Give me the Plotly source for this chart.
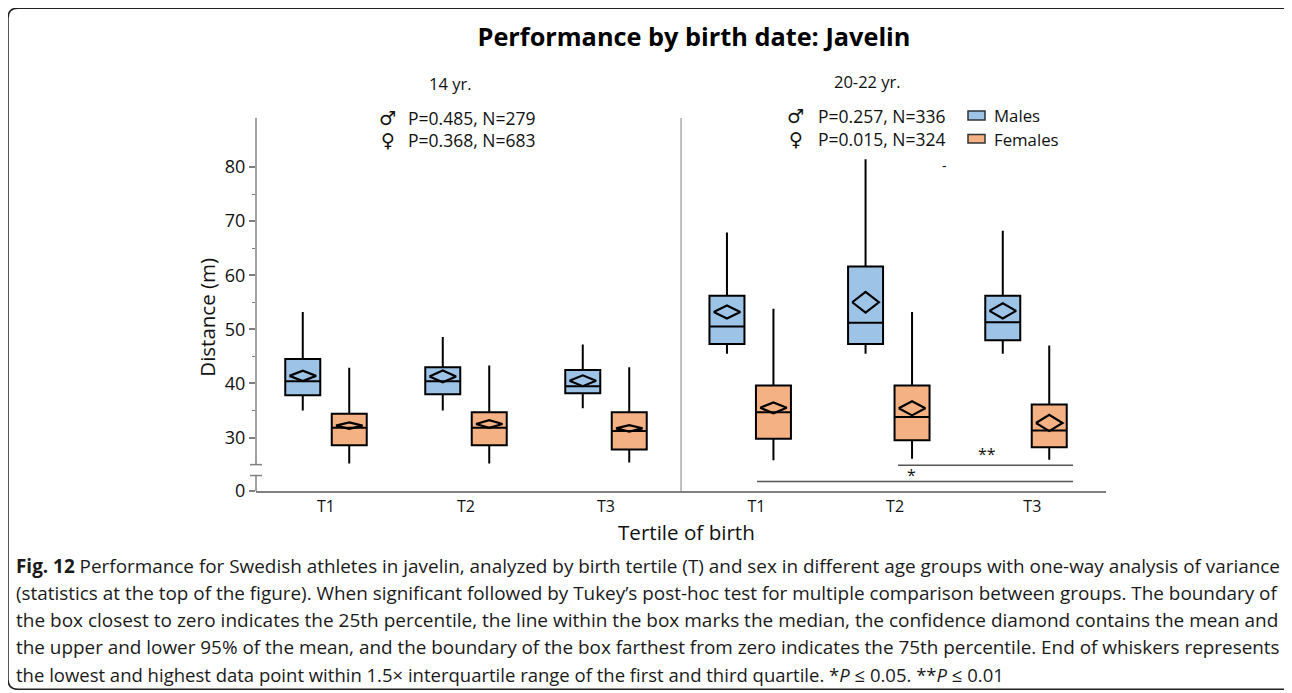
import plotly.graph_objects as go

# ---------------- data ----------------
tertiles = ["T1", "T2", "T3"]
age_groups = ["14 yr.", "20-22 yr."]
sexes = ["Males", "Females"]

# 14 yr.
m14_low = [35.0, 35.0, 35.4]
m14_q1 = [37.8, 38.0, 38.2]
m14_med = [40.4, 40.4, 39.5]
m14_q3 = [44.5, 43.0, 42.5]
m14_high = [53.2, 48.6, 47.2]
m14_mean = [41.4, 41.3, 40.5]
m14_ci = [0.95, 1.1, 1.0]

f14_low = [25.2, 25.2, 25.4]
f14_q1 = [28.6, 28.6, 27.8]
f14_med = [31.8, 31.8, 31.2]
f14_q3 = [34.4, 34.7, 34.7]
f14_high = [42.9, 43.3, 43.0]
f14_mean = [32.2, 32.5, 31.7]
f14_ci = [0.6, 0.7, 0.6]

# 20-22 yr.
m20_low = [45.5, 45.5, 45.5]
m20_q1 = [47.3, 47.3, 48.0]
m20_med = [50.5, 51.2, 51.3]
m20_q3 = [56.2, 61.6, 56.2]
m20_high = [67.9, 81.4, 68.2]
m20_mean = [53.2, 55.0, 53.4]
m20_ci = [1.2, 1.9, 1.4]

f20_low = [25.8, 26.1, 25.9]
f20_q1 = [29.8, 29.5, 28.2]
f20_med = [34.7, 33.8, 31.3]
f20_q3 = [39.6, 39.6, 36.1]
f20_high = [53.8, 53.2, 47.0]
f20_mean = [35.5, 35.4, 32.7]
f20_ci = [1.0, 1.3, 1.5]

stats_14 = ["P=0.485, N=279", "P=0.368, N=683"]
stats_20 = ["P=0.257, N=336", "P=0.015, N=324"]
y_ticks = [30, 40, 50, 60, 70, 80]

caption_lines = [
    "<b>Fig. 12</b> Performance for Swedish athletes in javelin, analyzed by birth tertile (T) and sex in different age groups with one-way analysis of variance",
    "(statistics at the top of the figure). When significant followed by Tukey\u2019s post-hoc test for multiple comparison between groups. The boundary of",
    "the box closest to zero indicates the 25th percentile, the line within the box marks the median, the confidence diamond contains the mean and",
    "the upper and lower 95% of the mean, and the boundary of the box farthest from zero indicates the 75th percentile. End of whiskers represents",
    "the lowest and highest data point within 1.5\u00d7 interquartile range of the first and third quartile. *<i>P</i> \u2264 0.05. **<i>P</i> \u2264 0.01",
]

# ---------------- layout geometry ----------------
OFF_PAGE = 8                       # default page margin of the html body
W, H = 1292 - OFF_PAGE, 693 - OFF_PAGE
L, R, T, B = 256, 1106, 118, 491.5  # plot area in screen pixels
PW, PH = R - L, B - T
UNIT = 140.0           # px per category unit
PXY = 5.42             # px per metre
ZERO = 30 - (B - 438) / PXY     # broken axis: where the "0" sits
YTOP = ZERO + PH / PXY
XMIN = 0.5
XMAX = XMIN + PW / UNIT

def pxx(px):
    return (px - L) / PW

def pxy(py):
    return (B - py) / PH

pos_left = [1.0, 2.0, 3.0]
pos_right = [4.03, 5.02, 6.0]
OFF = 0.166
BW = 0.25
DW = 0.095

MALE_FILL = "#9DC3E6"
FEMALE_FILL = "#F4B183"
FONT = "Open Sans, Noto Sans, sans-serif"

fig = go.Figure()

def add_group(centers, off, low, q1, med, q3, high, mean, ci, fill, name):
    xs = [c + off for c in centers]
    fig.add_trace(go.Box(
        x=xs, q1=q1, median=med, q3=q3, lowerfence=low, upperfence=high,
        width=BW, fillcolor=fill, line=dict(color="black", width=2),
        whiskerwidth=0, boxpoints=False, name=name, showlegend=False,
        hoverinfo="skip"))
    dx, dy = [], []
    for x, m, c in zip(xs, mean, ci):
        dx += [x - DW, x, x + DW, x, x - DW, None]
        dy += [m, m + c, m, m - c, m, None]
    fig.add_trace(go.Scatter(x=dx, y=dy, mode="lines",
                             line=dict(color="black", width=2.2),
                             showlegend=False, hoverinfo="skip"))

add_group(pos_left, -OFF, m14_low, m14_q1, m14_med, m14_q3, m14_high, m14_mean, m14_ci, MALE_FILL, sexes[0])
add_group(pos_left, OFF, f14_low, f14_q1, f14_med, f14_q3, f14_high, f14_mean, f14_ci, FEMALE_FILL, sexes[1])
add_group(pos_right, -OFF, m20_low, m20_q1, m20_med, m20_q3, m20_high, m20_mean, m20_ci, MALE_FILL, sexes[0])
add_group(pos_right, OFF, f20_low, f20_q1, f20_med, f20_q3, f20_high, f20_mean, f20_ci, FEMALE_FILL, sexes[1])

AXC = "#808080"
shapes = []
# y axis line with break
shapes.append(dict(type="line", xref="paper", yref="y", x0=0, x1=0, y0=25, y1=YTOP, line=dict(color=AXC, width=1.5)))
brk = 30 - (476 - 438) / PXY
shapes.append(dict(type="line", xref="paper", yref="y", x0=0, x1=0, y0=ZERO, y1=brk, line=dict(color=AXC, width=1.5)))
for yy in (25, brk):
    shapes.append(dict(type="line", xref="paper", yref="y", x0=pxx(250), x1=pxx(262), y0=yy, y1=yy, line=dict(color=AXC, width=1.5)))
# panel separator
shapes.append(dict(type="line", xref="x", yref="paper", x0=3.536, x1=3.536, y0=0, y1=1, line=dict(color=AXC, width=1)))
# significance lines
shapes.append(dict(type="line", xref="x", yref="y", x0=5.086, x1=6.336, y0=24.9, y1=24.9, line=dict(color="#555555", width=1.5)))
shapes.append(dict(type="line", xref="x", yref="y", x0=4.079, x1=6.336, y0=21.9, y1=21.9, line=dict(color="#555555", width=1.5)))
# legend swatches
for (y0, y1), fill in zip([(111, 120), (134.5, 143)], [MALE_FILL, FEMALE_FILL]):
    shapes.append(dict(type="rect", xref="paper", yref="paper", x0=pxx(968), x1=pxx(985),
                       y0=pxy(y1), y1=pxy(y0), fillcolor=fill, line=dict(color="#333333", width=1.5)))
# outer rounded border
pts = ("M {a},{b} L {c},{b} Q {d},{b} {d},{e} L {d},{f} Q {d},{g} {c},{g} L {a},{g}")
border = pts.format(a=pxx(1310), b=pxy(8), c=pxx(18), d=pxx(8), e=pxy(18), f=pxy(680), g=pxy(690))
shapes.append(dict(type="path", xref="paper", yref="paper", path=border, line=dict(color="#222222", width=1.5)))

ann = []
def text(x, y, s, size=16, xanchor="center", xref="paper", yref="paper", **kw):
    ann.append(dict(x=x, y=y, xref=xref, yref=yref, text=s, showarrow=False,
                    xanchor=xanchor, yanchor="middle",
                    font=dict(family=kw.pop("family", FONT), size=size, color=kw.pop("color", "#111111")), **kw))

text(pxx(450), pxy(83), age_groups[0], 16.5)
text(pxx(867), pxy(81.5), age_groups[1], 16.5)
# stats
text(pxx(387.5), pxy(118), "\u2642", 19, family="DejaVu Sans")
text(pxx(387.5), pxy(140), "\u2640", 19, family="DejaVu Sans")
text(pxx(406), pxy(118), stats_14[0], 17.5, xanchor="left")
text(pxx(406), pxy(140), stats_14[1], 17.5, xanchor="left")
text(pxx(795.5), pxy(116), "\u2642", 19, family="DejaVu Sans")
text(pxx(795.5), pxy(139), "\u2640", 19, family="DejaVu Sans")
text(pxx(816), pxy(116), stats_20[0], 17.5, xanchor="left")
text(pxx(816), pxy(139), stats_20[1], 17.5, xanchor="left")
# legend labels
text(pxx(992), pxy(115.7), sexes[0], 16.8, xanchor="left")
text(pxx(992), pxy(140), sexes[1], 16.8, xanchor="left")
# stray dash and significance stars
text(5.421, 80.2, "-", 14, xref="x", yref="y")
text(5.721, 27.05, "**", 16, xref="x", yref="y")
text(5.179, 23.17, "*", 16, xref="x", yref="y")
# axis titles
text(pxx(686), pxy(533), "Tertile of birth", 20.6)
text(pxx(207), pxy(318), "Distance (m)", 20.5, textangle=-90)
# caption
cap_y = [567, 594, 621, 648, 675]
cap_size = [18.9, 18.9, 19.0, 18.9, 18.5]
for s, yy, fs in zip(caption_lines, cap_y, cap_size):
    text(pxx(14), pxy(yy), s, fs, xanchor="left", color="#1a1a1a")

fig.update_layout(
    width=W, height=H, autosize=False,
    margin=dict(l=L - OFF_PAGE, r=W - (R - OFF_PAGE), t=T - OFF_PAGE, b=H - (B - OFF_PAGE), pad=0),
    paper_bgcolor="white", plot_bgcolor="white",
    showlegend=False,
    title=dict(text="<b>Performance by birth date: Javelin</b>", x=(694 - OFF_PAGE) / W, xanchor="center",
               y=1 - (37 - OFF_PAGE) / H, yanchor="middle", font=dict(family=FONT, size=25.3, color="black")),
    shapes=shapes, annotations=ann,
    xaxis=dict(range=[XMIN, XMAX], showgrid=False, zeroline=False, showline=True,
               linecolor=AXC, linewidth=1.5, ticks="",
               tickvals=pos_left + [p + 0.045 for p in pos_right], ticktext=tertiles * 2,
               tickfont=dict(family=FONT, size=16, color="#111111")),
    yaxis=dict(range=[ZERO, YTOP], showgrid=False, zeroline=False, showline=False,
               ticks="outside", ticklen=6, tickcolor=AXC, tickwidth=1.5,
               tickvals=[ZERO] + y_ticks, ticktext=["0"] + [str(v) for v in y_ticks],
               tickfont=dict(family=FONT, size=18, color="#111111"),
               minor=dict(tickvals=[35, 45, 55, 65, 75], ticks="outside", ticklen=3, tickcolor=AXC, tickwidth=1)),
)

fig.write_html("out.html")
